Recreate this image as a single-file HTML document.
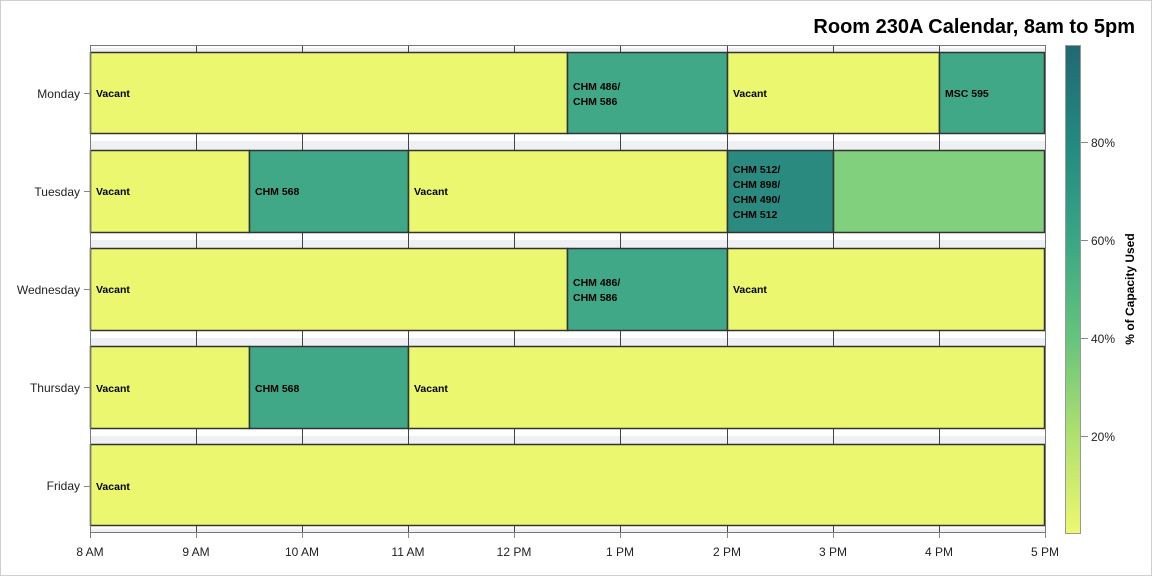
<!DOCTYPE html>
<html><head><style>body{margin:0;background:#fff}svg{display:block}text{font-family:"Liberation Sans",sans-serif}</style></head><body>
<svg width="1152" height="576" viewBox="0 0 1152 576" xmlns="http://www.w3.org/2000/svg">
<defs>
<linearGradient id="cb" x1="0" y1="0" x2="0" y2="1">
<stop offset="0" stop-color="#236873"/><stop offset="0.2" stop-color="#238a80"/><stop offset="0.4" stop-color="#3aa686"/><stop offset="0.6" stop-color="#65c47c"/><stop offset="0.8" stop-color="#b0e070"/><stop offset="1" stop-color="#eef870"/>
</linearGradient>
<linearGradient id="gap" x1="0" y1="0" x2="0" y2="1"><stop offset="0.45" stop-color="#fff"/><stop offset="0.45" stop-color="#eef0f4"/></linearGradient>
</defs>
<rect x="0.5" y="0.5" width="1151" height="575" fill="#fff" stroke="#cfcfcf"/>
<text x="1135" y="33" font-size="20" font-weight="bold" text-anchor="end">Room 230A Calendar, 8am to 5pm</text>
<g fill="url(#gap)">
<rect x="90" y="45" width="955" height="7"/>
<rect x="90" y="134" width="955" height="16"/>
<rect x="90" y="233" width="955" height="15"/>
<rect x="90" y="331" width="955" height="15"/>
<rect x="90" y="429" width="955" height="15"/>
<rect x="90" y="526" width="955" height="6"/>
</g>
<g stroke="#444" stroke-width="1">
<line x1="196.5" y1="45" x2="196.5" y2="532"/><line x1="302.5" y1="45" x2="302.5" y2="532"/><line x1="408.5" y1="45" x2="408.5" y2="532"/><line x1="514.5" y1="45" x2="514.5" y2="532"/><line x1="620.5" y1="45" x2="620.5" y2="532"/><line x1="727.5" y1="45" x2="727.5" y2="532"/><line x1="833.5" y1="45" x2="833.5" y2="532"/><line x1="939.5" y1="45" x2="939.5" y2="532"/>
</g>
<g stroke="#333" stroke-width="1.5">
<rect x="90.5" y="52.5" width="477" height="81" fill="#ebf76e"/>
<rect x="567.5" y="52.5" width="160" height="81" fill="#40a886"/>
<rect x="727.5" y="52.5" width="212" height="81" fill="#ebf76e"/>
<rect x="939.5" y="52.5" width="105" height="81" fill="#40a886"/>
<rect x="90.5" y="150.5" width="159" height="82" fill="#ebf76e"/>
<rect x="249.5" y="150.5" width="159" height="82" fill="#40a886"/>
<rect x="408.5" y="150.5" width="319" height="82" fill="#ebf76e"/>
<rect x="727.5" y="150.5" width="106" height="82" fill="#2a8a80"/>
<rect x="833.5" y="150.5" width="211" height="82" fill="#80d07e"/>
<rect x="90.5" y="248.5" width="477" height="82" fill="#ebf76e"/>
<rect x="567.5" y="248.5" width="160" height="82" fill="#40a886"/>
<rect x="727.5" y="248.5" width="317" height="82" fill="#ebf76e"/>
<rect x="90.5" y="346.5" width="159" height="82" fill="#ebf76e"/>
<rect x="249.5" y="346.5" width="159" height="82" fill="#40a886"/>
<rect x="408.5" y="346.5" width="636" height="82" fill="#ebf76e"/>
<rect x="90.5" y="444.5" width="954" height="81" fill="#ebf76e"/>
</g>
<g stroke="#777" stroke-width="1" fill="none">
<line x1="90.5" y1="45" x2="90.5" y2="538"/><line x1="1045.5" y1="45" x2="1045.5" y2="532"/><line x1="90" y1="45.5" x2="1045" y2="45.5"/><line x1="90" y1="532.5" x2="1045" y2="532.5"/>
</g>
<g font-size="10.5" font-weight="bold" fill="#000">
<text x="96" y="97">Vacant</text><text x="573" y="90">CHM 486/</text><text x="573" y="105">CHM 586</text><text x="733" y="97">Vacant</text><text x="945" y="97">MSC 595</text>
<text x="96" y="195">Vacant</text><text x="255" y="195">CHM 568</text><text x="414" y="195">Vacant</text>
<text x="733" y="173">CHM 512/</text><text x="733" y="188">CHM 898/</text><text x="733" y="203">CHM 490/</text><text x="733" y="218">CHM 512</text>
<text x="96" y="293">Vacant</text><text x="573" y="286">CHM 486/</text><text x="573" y="301">CHM 586</text><text x="733" y="293">Vacant</text>
<text x="96" y="392">Vacant</text><text x="255" y="392">CHM 568</text><text x="414" y="392">Vacant</text>
<text x="96" y="490">Vacant</text>
</g>
<g font-size="12" fill="#222" text-anchor="end">
<text x="80" y="98">Monday</text><text x="80" y="196">Tuesday</text><text x="80" y="294">Wednesday</text><text x="80" y="392">Thursday</text><text x="80" y="490">Friday</text>
</g>
<g stroke="#888"><line x1="84" y1="93.5" x2="90" y2="93.5"/><line x1="84" y1="191.5" x2="90" y2="191.5"/><line x1="84" y1="289.5" x2="90" y2="289.5"/><line x1="84" y1="387.5" x2="90" y2="387.5"/><line x1="84" y1="486.5" x2="90" y2="486.5"/>
<line x1="196.5" y1="532" x2="196.5" y2="538"/><line x1="302.5" y1="532" x2="302.5" y2="538"/><line x1="408.5" y1="532" x2="408.5" y2="538"/><line x1="514.5" y1="532" x2="514.5" y2="538"/><line x1="620.5" y1="532" x2="620.5" y2="538"/><line x1="727.5" y1="532" x2="727.5" y2="538"/><line x1="833.5" y1="532" x2="833.5" y2="538"/><line x1="939.5" y1="532" x2="939.5" y2="538"/><line x1="1045.5" y1="532" x2="1045.5" y2="538"/></g>
<g font-size="12" fill="#222" text-anchor="middle">
<text x="90" y="556">8 AM</text><text x="196" y="556">9 AM</text><text x="302" y="556">10 AM</text><text x="408" y="556">11 AM</text><text x="514" y="556">12 PM</text><text x="620" y="556">1 PM</text><text x="727" y="556">2 PM</text><text x="833" y="556">3 PM</text><text x="939" y="556">4 PM</text><text x="1045" y="556">5 PM</text>
</g>
<rect x="1065.5" y="45.5" width="15" height="488" fill="url(#cb)" stroke="#999"/>
<g stroke="#888"><line x1="1081" y1="142.5" x2="1088" y2="142.5"/><line x1="1081" y1="240.5" x2="1088" y2="240.5"/><line x1="1081" y1="338.5" x2="1088" y2="338.5"/><line x1="1081" y1="436.5" x2="1088" y2="436.5"/></g>
<g font-size="12" fill="#222"><text x="1091" y="147">80%</text><text x="1091" y="245">60%</text><text x="1091" y="343">40%</text><text x="1091" y="441">20%</text></g>
<text transform="translate(1134,289) rotate(-90)" font-size="12" font-weight="bold" text-anchor="middle">% of Capacity Used</text>
</svg>
</body></html>
